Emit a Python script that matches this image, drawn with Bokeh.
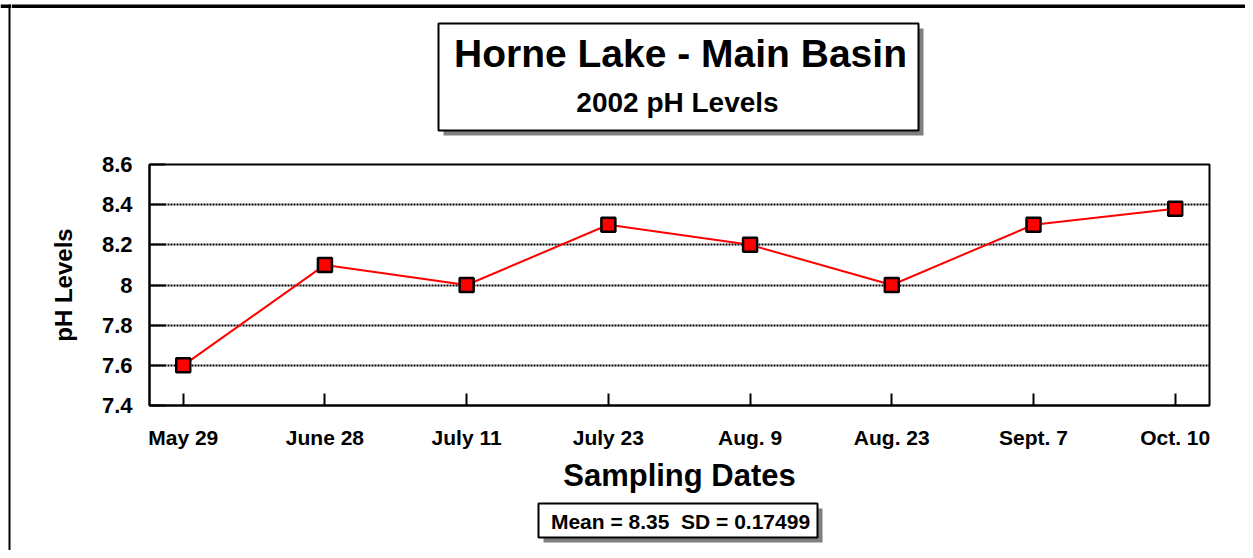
from bokeh.plotting import figure
from bokeh.layouts import row, column
from bokeh.models import Range1d, FixedTicker
from bokeh.core.properties import value
from bokeh.embed import file_html
from bokeh.resources import INLINE

# ---- data ----
dates = ["May 29", "June 28", "July 11", "July 23", "Aug. 9", "Aug. 23", "Sept. 7", "Oct. 10"]
ph_values = [7.6, 8.1, 8.0, 8.3, 8.2, 8.0, 8.3, 8.38]
y_ticks = [7.4, 7.6, 7.8, 8.0, 8.2, 8.4, 8.6]
y_tick_labels = ["7.4", "7.6", "7.8", "8", "8.2", "8.4", "8.6"]
title_text = "Horne Lake - Main Basin"
subtitle_text = "2002 pH Levels"
stats_text = "Mean = 8.35 \u00a0SD = 0.17499"
x_title = "Sampling Dates"
y_title = "pH Levels"

FONT = "Liberation Sans"
W, H = 1245, 550
STRIP = 11
CW = W - STRIP
TOP_H = 150
MAIN_H = 350
BOT_H = H - TOP_H - MAIN_H


def no_align(f):
    try:
        f.frame_align = False
    except Exception:
        pass


def blank(width, height, x0, x1, y0, y1):
    f = figure(width=width, height=height, output_backend="svg", toolbar_location=None,
               x_range=Range1d(x0, x1), y_range=Range1d(y1, y0),
               x_axis_location=None, y_axis_location=None,
               min_border=0, min_border_left=0, min_border_right=0,
               min_border_top=0, min_border_bottom=0,
               background_fill_color="white", border_fill_color="white")
    f.title.visible = False
    f.outline_line_color = None
    f.xgrid.grid_line_color = None
    f.ygrid.grid_line_color = None
    no_align(f)
    return f


def boxed(f, left, right, top, bottom, shadow=5):
    f.quad(left=[left + shadow], right=[right + shadow], top=[top + shadow],
           bottom=[bottom + shadow], fill_color="#808080", line_color=None)
    f.quad(left=[left], right=[right], top=[top], bottom=[bottom],
           fill_color="white", line_color="black", line_width=2)


def txt(f, x, y, s, size):
    f.text(x=[x], y=[y], text=[s], text_align="center", text_baseline="middle",
           text_font=value(FONT), text_font_style="bold", text_font_size=size,
           text_color="black")


# left strip with outer frame lines
strip = blank(STRIP, H, 0, STRIP, 0, H)
strip.quad(left=[0], right=[STRIP], top=[4], bottom=[7.5], fill_color="black", line_color=None)
strip.quad(left=[8], right=[10], top=[4], bottom=[H], fill_color="black", line_color=None)

# top: frame line + title box
top = blank(CW, TOP_H, STRIP, W, 0, TOP_H)
top.quad(left=[STRIP], right=[W], top=[4], bottom=[7.5], fill_color="black", line_color=None)
boxed(top, 438, 918, 23, 130)
txt(top, 680, 53, title_text, "39px")
txt(top, 677, 102, subtitle_text, "28px")

# main chart
xs = list(range(len(dates)))
p = figure(width=CW, height=MAIN_H, output_backend="svg", toolbar_location=None,
           x_range=Range1d(-0.238, len(dates) - 1 + 0.242), y_range=Range1d(7.4, 8.6),
           min_border_left=149 - STRIP, min_border_right=W - 1209,
           min_border_top=164 - TOP_H, min_border_bottom=TOP_H + MAIN_H - 405,
           background_fill_color="white", border_fill_color="white")
p.title.visible = False
p.outline_line_color = "black"
p.outline_line_width = 2
no_align(p)

p.xaxis.ticker = FixedTicker(ticks=xs)
p.xaxis.major_label_overrides = {i: d for i, d in enumerate(dates)}
p.yaxis.ticker = FixedTicker(ticks=y_ticks)
p.yaxis.major_label_overrides = {v: s for v, s in zip(y_ticks, y_tick_labels)}

for ax in (p.xaxis, p.yaxis):
    ax.axis_line_color = "black"
    ax.axis_line_width = 2
    ax.major_tick_line_color = "black"
    ax.major_tick_line_width = 2
    ax.major_tick_out = 0
    ax.minor_tick_line_color = None
    ax.major_label_text_font = FONT
    ax.major_label_text_font_style = "bold"
    ax.major_label_text_color = "black"
    ax.axis_label_text_font = FONT
    ax.axis_label_text_font_style = "bold"
    ax.axis_label_text_color = "black"

p.xaxis.major_tick_in = 12
p.xaxis.major_label_text_font_size = "21px"
p.xaxis.major_label_standoff = 20
p.xaxis.axis_label = x_title
p.xaxis.axis_label_text_font_size = "31px"
p.xaxis.axis_label_standoff = 6

p.yaxis.major_tick_in = 16
p.yaxis.major_label_text_font_size = "22px"
p.yaxis.major_label_standoff = 17
p.yaxis.axis_label = y_title
p.yaxis.axis_label_text_font_size = "24px"
p.yaxis.axis_label_standoff = 22

p.xgrid.grid_line_color = None
p.ygrid.grid_line_color = "black"
p.ygrid.grid_line_width = 2
p.ygrid.grid_line_dash = "2 1"

p.line(xs, ph_values, line_color="#FF0000", line_width=2)
p.scatter(xs, ph_values, marker="square", size=14, fill_color="#FF0000",
          line_color="black", line_width=2.5)

# bottom: stats box
bot = blank(CW, BOT_H, STRIP, W, TOP_H + MAIN_H, H)
boxed(bot, 538, 817, 503, 537)
txt(bot, 680, 520.5, stats_text, "21px")

layout = row(strip, column(top, p, bot, spacing=0), spacing=0)
open("out.html", "w").write(file_html(layout, INLINE))
